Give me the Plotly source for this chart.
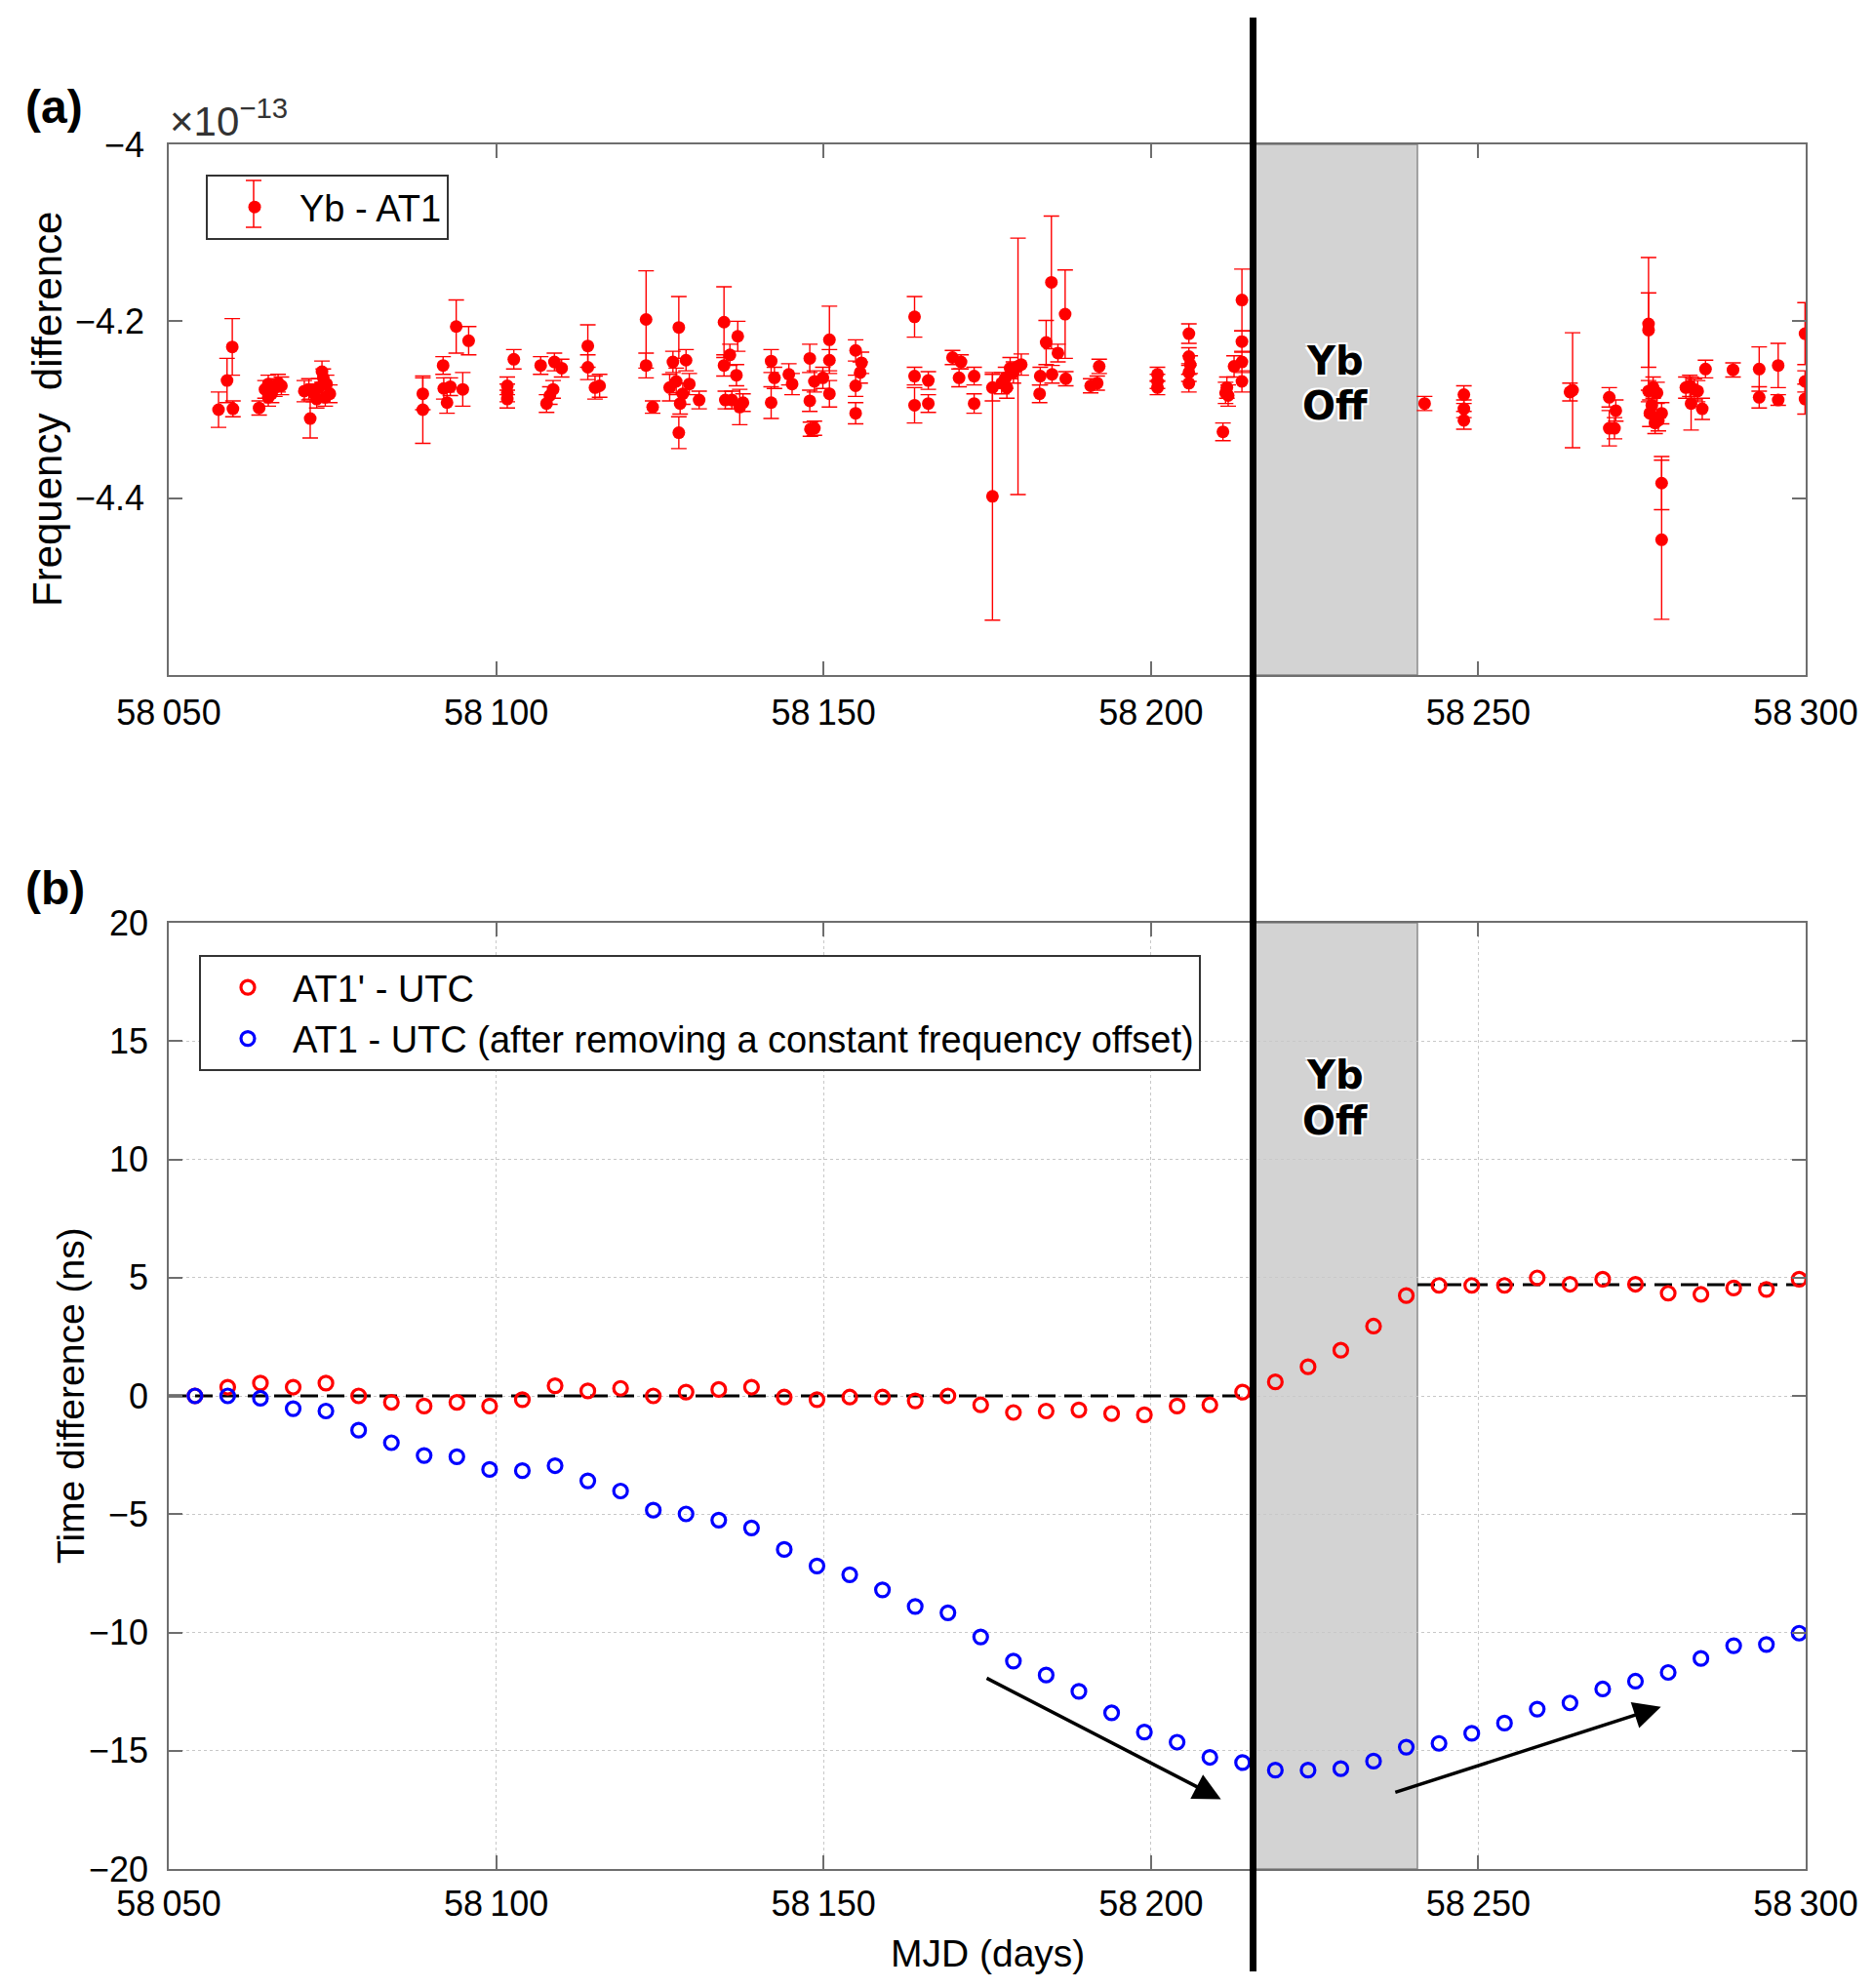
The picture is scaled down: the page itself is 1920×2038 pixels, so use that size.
import plotly.graph_objects as go

# ---------------- Panel (a): Yb - AT1 fractional frequency difference (x1e-13) ----------------
mjd_a = [58057.6, 58058.9, 58059.7, 58059.8, 58063.8, 58064.7, 58065.2, 58065.2, 58065.7, 58066.2,
         58066.7, 58067.2, 58070.7, 58071.4, 58071.6, 58072.1, 58072.6, 58072.9, 58073.4, 58073.6,
         58073.9, 58074.1, 58074.6, 58088.8, 58088.8, 58091.9, 58092.0, 58092.5, 58093.0, 58093.9,
         58094.9, 58095.8, 58101.7, 58101.7, 58101.7, 58102.7, 58106.8, 58107.7, 58108.2, 58108.7,
         58108.9, 58110.0, 58114.0, 58114.0, 58115.1, 58115.8, 58122.9, 58122.9, 58123.9, 58126.5,
         58127.0, 58127.5, 58127.9, 58127.9, 58128.1, 58128.5, 58129.0, 58129.5, 58131.0, 58134.8,
         58134.8, 58135.0, 58135.7, 58136.0, 58136.7, 58136.9, 58137.2, 58137.7, 58142.0, 58142.0,
         58142.5, 58144.7, 58145.2, 58147.9, 58147.9, 58148.0, 58148.6, 58148.6, 58149.9, 58150.9,
         58150.9, 58150.9, 58154.9, 58154.9, 58154.9, 58155.6, 58155.8, 58163.9, 58163.9, 58163.9,
         58166.0, 58166.0, 58169.7, 58170.7, 58171.0, 58173.0, 58173.0, 58175.8, 58175.8, 58177.2,
         58177.8, 58178.5, 58179.0, 58179.7, 58180.2, 58178.0, 58183.0, 58183.1, 58184.0, 58184.8,
         58184.9, 58185.8, 58186.9, 58187.0, 58190.8, 58191.8, 58192.1, 58201.0, 58201.0, 58201.0,
         58205.8, 58205.8, 58206.0, 58205.8, 58205.8, 58211.0, 58211.6, 58211.8, 58211.4, 58212.7,
         58213.9, 58213.9, 58213.9, 58213.9, 58241.8, 58247.8, 58247.8, 58247.8, 58264.0, 58264.4,
         58270.0, 58270.0, 58270.8, 58271.0, 58276.0, 58276.0, 58276.0, 58276.2, 58276.5, 58276.7,
         58277.0, 58277.3, 58277.5, 58278.0, 58278.0, 58278.0, 58281.7, 58282.3, 58282.5, 58283.0,
         58283.5, 58284.2, 58284.7, 58288.9, 58292.9, 58292.9, 58295.8, 58295.8, 58299.9, 58299.9,
         58299.9]
freq_a = [-4.300, -4.267, -4.229, -4.299, -4.298, -4.277, -4.271, -4.286, -4.282, -4.275,
          -4.270, -4.273, -4.279, -4.277, -4.310, -4.281, -4.288, -4.275, -4.257, -4.264,
          -4.286, -4.271, -4.282, -4.300, -4.282, -4.250, -4.276, -4.292, -4.274, -4.206,
          -4.277, -4.222, -4.273, -4.281, -4.288, -4.243, -4.250, -4.293, -4.284, -4.277,
          -4.246, -4.253, -4.228, -4.252, -4.275, -4.273, -4.198, -4.250, -4.297, -4.275,
          -4.246, -4.268, -4.207, -4.326, -4.293, -4.282, -4.244, -4.271, -4.289, -4.201,
          -4.250, -4.289, -4.238, -4.289, -4.261, -4.217, -4.297, -4.292, -4.245, -4.292,
          -4.264, -4.260, -4.271, -4.242, -4.290, -4.322, -4.268, -4.321, -4.264, -4.221,
          -4.244, -4.282, -4.233, -4.273, -4.304, -4.258, -4.247, -4.195, -4.262, -4.295,
          -4.267, -4.293, -4.241, -4.264, -4.246, -4.262, -4.293, -4.398, -4.275, -4.270,
          -4.264, -4.253, -4.258, -4.251, -4.249, -4.275, -4.282, -4.262, -4.224, -4.156,
          -4.260, -4.236, -4.192, -4.265, -4.273, -4.270, -4.251, -4.260, -4.268, -4.275,
          -4.214, -4.240, -4.249, -4.258, -4.270, -4.325, -4.275, -4.284, -4.281, -4.251,
          -4.246, -4.176, -4.223, -4.268, -4.293, -4.283, -4.299, -4.312, -4.280, -4.278,
          -4.286, -4.321, -4.321, -4.301, -4.203, -4.210, -4.279, -4.304, -4.295, -4.275,
          -4.315, -4.281, -4.312, -4.304, -4.383, -4.447, -4.275, -4.273, -4.293, -4.277,
          -4.279, -4.299, -4.254, -4.255, -4.254, -4.286, -4.250, -4.289, -4.214, -4.268,
          -4.288]
err_a = [0.020, 0.025, 0.032, 0.009, 0.008, 0.010, 0.010, 0.010, 0.010, 0.010,
         0.010, 0.010, 0.012, 0.012, 0.022, 0.010, 0.010, 0.010, 0.012, 0.010,
         0.010, 0.010, 0.010, 0.038, 0.018, 0.010, 0.012, 0.012, 0.010, 0.030,
         0.019, 0.016, 0.010, 0.010, 0.010, 0.011, 0.010, 0.010, 0.010, 0.010,
         0.010, 0.010, 0.024, 0.014, 0.013, 0.013, 0.055, 0.014, 0.007, 0.015,
         0.012, 0.015, 0.035, 0.018, 0.012, 0.012, 0.012, 0.012, 0.010, 0.040,
         0.012, 0.010, 0.012, 0.010, 0.012, 0.017, 0.020, 0.010, 0.013, 0.018,
         0.012, 0.012, 0.012, 0.016, 0.012, 0.008, 0.012, 0.008, 0.012, 0.038,
         0.012, 0.015, 0.012, 0.012, 0.012, 0.012, 0.012, 0.023, 0.010, 0.020,
         0.010, 0.010, 0.008, 0.010, 0.008, 0.010, 0.011, 0.140, 0.015, 0.012,
         0.012, 0.012, 0.012, 0.145, 0.012, 0.012, 0.010, 0.010, 0.025, 0.075,
         0.010, 0.010, 0.050, 0.008, 0.008, 0.008, 0.008, 0.008, 0.008, 0.008,
         0.011, 0.010, 0.010, 0.010, 0.010, 0.010, 0.012, 0.012, 0.012, 0.012,
         0.012, 0.035, 0.012, 0.012, 0.008, 0.010, 0.010, 0.010, 0.010, 0.065,
         0.011, 0.020, 0.012, 0.012, 0.075, 0.042, 0.012, 0.015, 0.012, 0.012,
         0.012, 0.012, 0.012, 0.012, 0.030, 0.090, 0.012, 0.012, 0.030, 0.012,
         0.012, 0.012, 0.010, 0.008, 0.025, 0.012, 0.025, 0.006, 0.035, 0.012,
         0.017]

# ---------------- Panel (b): time differences (ns) ----------------
mjd_b = [58054, 58059, 58064, 58069, 58074, 58079, 58084, 58089, 58094, 58099,
         58104, 58109, 58114, 58119, 58124, 58129, 58134, 58139, 58144, 58149,
         58154, 58159, 58164, 58169, 58174, 58179, 58184, 58189, 58194, 58199,
         58204, 58209, 58214, 58219, 58224, 58229, 58234, 58239, 58244, 58249,
         58254, 58259, 58264, 58269, 58274, 58279, 58284, 58289, 58294, 58299]
at1p_utc = [0.0, 0.37, 0.54, 0.37, 0.54, 0.0, -0.27, -0.43, -0.27, -0.43,
            -0.16, 0.43, 0.21, 0.32, 0.0, 0.16, 0.27, 0.37, -0.05, -0.16,
            -0.05, -0.05, -0.21, 0.0, -0.38, -0.70, -0.64, -0.59, -0.75, -0.80,
            -0.43, -0.38, 0.16, 0.59, 1.23, 1.93, 2.95, 4.24, 4.67, 4.67,
            4.67, 4.99, 4.72, 4.93, 4.72, 4.34, 4.29, 4.56, 4.50, 4.93]
at1_utc = [0.0, 0.0, -0.10, -0.54, -0.64, -1.45, -1.98, -2.52, -2.57, -3.11,
           -3.16, -2.95, -3.59, -4.02, -4.83, -4.99, -5.25, -5.58, -6.49, -7.19,
           -7.56, -8.20, -8.90, -9.17, -10.19, -11.21, -11.80, -12.49, -13.40, -14.21,
           -14.64, -15.28, -15.50, -15.82, -15.82, -15.76, -15.44, -14.85, -14.69, -14.26,
           -13.83, -13.24, -12.98, -12.39, -12.06, -11.69, -11.10, -10.56, -10.51, -10.03]

# reference levels and events
dash_x_before = [58050, 58215.6]
dash_y_before = [0.0, 0.0]
dash_x_after = [58240.7, 58300]
dash_y_after = [4.7, 4.7]
yb_off_start = 58215.6
yb_off_end = 58240.7
arrow1 = dict(x0=58174.7, y0=-11.9, x1=58210.7, y1=-17.05)
arrow2 = dict(x0=58237.1, y0=-16.78, x1=58277.9, y1=-13.14)

x_ticks = [58050, 58100, 58150, 58200, 58250, 58300]
x_ticktext = ["58\u2009050", "58\u2009100", "58\u2009150", "58\u2009200", "58\u2009250", "58\u2009300"]
ya_ticks = [-4.4, -4.2, -4.0]
ya_ticktext = ["\u22124.4", "\u22124.2", "\u22124"]
yb_ticks = [-20, -15, -10, -5, 0, 5, 10, 15, 20]
yb_ticktext = ["\u221220", "\u221215", "\u221210", "\u22125", "0", "5", "10", "15", "20"]

# page is 1920x2038 with the default 8px body margin around the figure
MARG = 8
W, H = 1920 - 2 * MARG, 2038 - 2 * MARG
FONT = "Liberation Sans, Arial, sans-serif"
px = lambda v: (v - MARG) / W
py = lambda v: 1 - (v - MARG) / H

XDOM = [px(173), px(1851)]
YDOM_A = [py(692), py(148)]
YDOM_B = [py(1916), py(946)]

fig = go.Figure()

fig.add_trace(go.Scatter(
    x=mjd_a, y=freq_a, mode="markers", name="Yb - AT1",
    marker=dict(color="#ff0000", size=13, symbol="circle"),
    error_y=dict(type="data", array=err_a, color="#ff0000", thickness=1.4, width=8),
    xaxis="x", yaxis="y", legend="legend"))

for xs, ys in [(dash_x_before, dash_y_before), (dash_x_after, dash_y_after)]:
    fig.add_trace(go.Scatter(x=xs, y=ys, mode="lines", showlegend=False,
                             line=dict(color="black", width=3, dash="18px,9px"),
                             xaxis="x2", yaxis="y2", hoverinfo="skip"))

fig.add_trace(go.Scatter(
    x=mjd_b, y=at1p_utc, mode="markers", name="AT1' - UTC",
    marker=dict(symbol="circle-open", size=14, color="#ff0000", line=dict(width=3.2, color="#ff0000")),
    xaxis="x2", yaxis="y2", legend="legend2"))
fig.add_trace(go.Scatter(
    x=mjd_b, y=at1_utc, mode="markers", name="AT1 - UTC (after removing a constant frequency offset)",
    marker=dict(symbol="circle-open", size=14, color="#0000ff", line=dict(width=3.2, color="#0000ff")),
    xaxis="x2", yaxis="y2", legend="legend2"))

axis_common = dict(
    showline=True, linecolor="#6e6e6e", linewidth=1.5, mirror="allticks",
    ticks="inside", ticklen=14, tickwidth=1.5, tickcolor="#6e6e6e",
    tickfont=dict(family=FONT, size=36, color="black"), zeroline=False, automargin=False,
)

fig.update_layout(
    template="none",
    width=W, height=H, autosize=False,
    margin=dict(l=0, r=0, t=0, b=0, pad=0),
    paper_bgcolor="white", plot_bgcolor="white",
    font=dict(family=FONT, color="black"),
    xaxis=dict(domain=XDOM, anchor="y", range=[58050, 58300], tickvals=x_ticks, ticktext=x_ticktext,
               showgrid=False, ticklabelstandoff=6, **axis_common),
    yaxis=dict(domain=YDOM_A, anchor="x", range=[-4.6, -4.0], tickvals=ya_ticks, ticktext=ya_ticktext,
               showgrid=False, ticklabelstandoff=16, **axis_common),
    xaxis2=dict(domain=XDOM, anchor="y2", range=[58050, 58300], tickvals=x_ticks, ticktext=x_ticktext,
                showgrid=True, gridcolor="#c8c8c8", griddash="dot", gridwidth=1.2,
                ticklabelstandoff=3, **axis_common),
    yaxis2=dict(domain=YDOM_B, anchor="x2", range=[-20, 20], tickvals=yb_ticks, ticktext=yb_ticktext,
                showgrid=True, gridcolor="#c8c8c8", griddash="dot", gridwidth=1.2,
                ticklabelstandoff=12, **axis_common),
    legend=dict(x=px(211), y=py(179), xanchor="left", yanchor="top",
                bgcolor="rgba(255,255,255,0)", bordercolor="#333333", borderwidth=2,
                font=dict(family=FONT, size=38, color="black"), itemwidth=82, indentation=2),
    legend2=dict(x=px(204), y=py(979), xanchor="left", yanchor="top",
                 bgcolor="white", bordercolor="#333333", borderwidth=2,
                 font=dict(family=FONT, size=38, color="black"), itemwidth=82, indentation=2),
    showlegend=True,
)

# grey "Yb off" boxes
for xr, yr in [("x", "y domain"), ("x2", "y2 domain")]:
    fig.add_shape(type="rect", xref=xr, yref=yr, x0=yb_off_start, x1=yb_off_end, y0=0, y1=1,
                  fillcolor="#d3d3d3", line=dict(color="#8a8a8a", width=1.5), layer="below")

# thick black event line crossing both panels
fig.add_shape(type="line", xref="x", yref="paper", x0=yb_off_start, x1=yb_off_start,
              y0=py(2021), y1=py(18), line=dict(color="black", width=7), layer="above")

# error-bar glyph in legend (a)
LGX, LGY0, LGY1 = 260, 185, 233
fig.add_shape(type="line", xref="paper", yref="paper", x0=px(LGX), x1=px(LGX), y0=py(LGY0), y1=py(LGY1),
              line=dict(color="#ff0000", width=1.5))
for yy in (LGY0, LGY1):
    fig.add_shape(type="line", xref="paper", yref="paper", x0=px(LGX - 8), x1=px(LGX + 8), y0=py(yy), y1=py(yy),
                  line=dict(color="#ff0000", width=1.5))

# arrows
for a in (arrow1, arrow2):
    fig.add_annotation(x=a["x1"], y=a["y1"], ax=a["x0"], ay=a["y0"], xref="x2", yref="y2",
                       axref="x2", ayref="y2", showarrow=True, arrowhead=2, arrowsize=1.6,
                       arrowwidth=3.5, arrowcolor="black", text="")

# text annotations
yb_font = dict(family="DejaVu Sans, Liberation Sans, sans-serif", size=40, color="black",
               weight="bold", shadow="-2px -2px 0 #fff, 2px -2px 0 #fff, -2px 2px 0 #fff, 2px 2px 0 #fff")
xc = (yb_off_start + yb_off_end) / 2
for txt, yy, xr in [("Yb", 370, "x"), ("Off", 416, "x"), ("Yb", 1102, "x2"), ("Off", 1149, "x2")]:
    fig.add_annotation(x=xc, y=py(yy), xref=xr, yref="paper", text=txt, showarrow=False,
                       font=yb_font, xanchor="center", yanchor="middle")

for txt, yy in [("<b>(a)</b>", 110), ("<b>(b)</b>", 910)]:
    fig.add_annotation(x=px(24), y=py(yy), xref="paper", yref="paper", text=txt,
                       showarrow=False, xanchor="left", yanchor="middle",
                       font=dict(family=FONT, size=48, color="black"))
fig.add_annotation(x=px(172), y=py(121), xref="paper", yref="paper",
                   text="\u00d710<sup>\u221213</sup>", showarrow=False, xanchor="left", yanchor="middle",
                   font=dict(family=FONT, size=42, color="#333333"))

fig.add_annotation(x=px(49), y=py(420), xref="paper", yref="paper", text="Frequency  difference",
                   textangle=-90, showarrow=False, xanchor="center", yanchor="middle",
                   font=dict(family=FONT, size=42, color="black"))
fig.add_annotation(x=px(72), y=py(1431), xref="paper", yref="paper", text="Time difference (ns)",
                   textangle=-90, showarrow=False, xanchor="center", yanchor="middle",
                   font=dict(family=FONT, size=39, color="black"))
fig.add_annotation(x=px(1012), y=py(2002), xref="paper", yref="paper", text="MJD (days)",
                   showarrow=False, xanchor="center", yanchor="middle",
                   font=dict(family=FONT, size=39, color="black"))

fig.write_html("out.html")
